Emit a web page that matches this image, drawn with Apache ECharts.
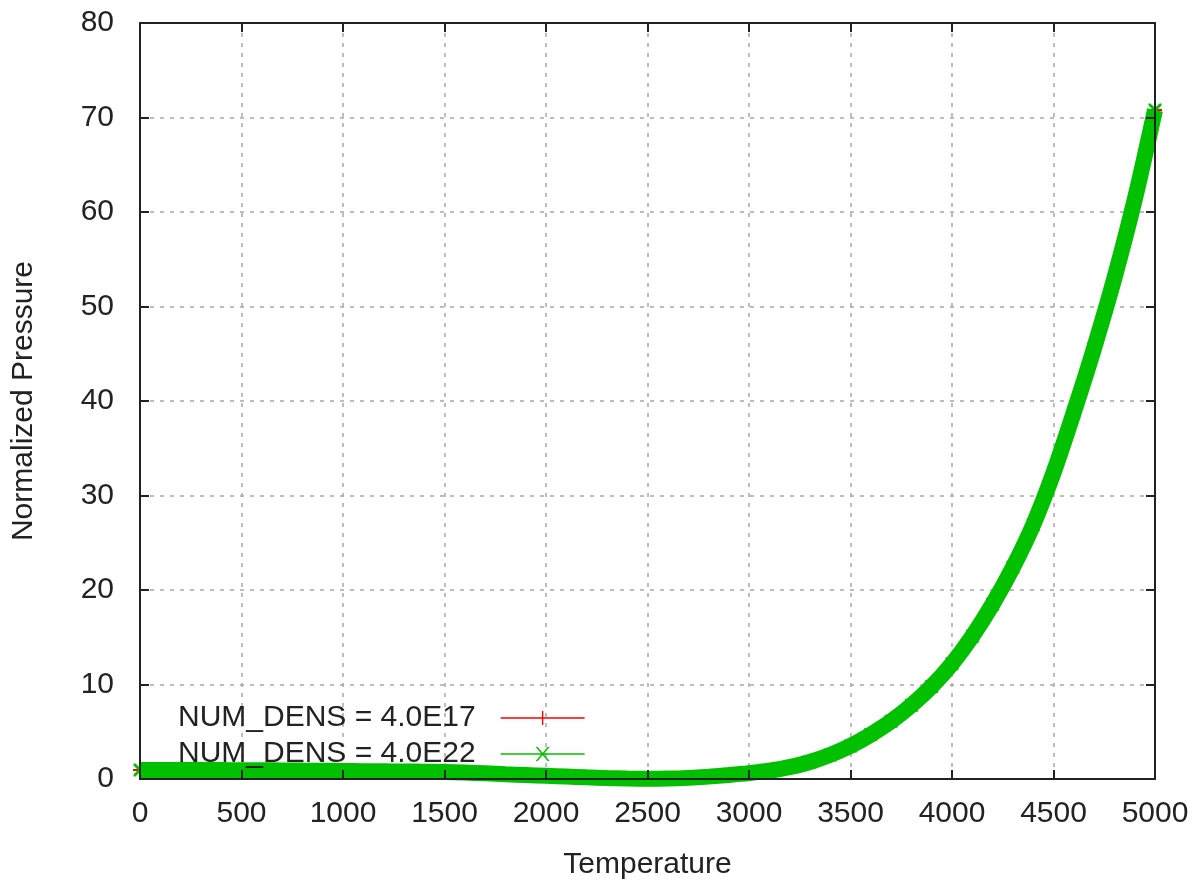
<!DOCTYPE html>
<html>
<head>
<meta charset="utf-8">
<style>
  html, body { margin: 0; padding: 0; background: #fff; }
  #chart { width: 1201px; height: 887px; }
</style>
<script src="https://cdn.jsdelivr.net/npm/echarts@6/dist/echarts.min.js"></script>
</head>
<body>
<div id="chart"></div>
<script>
// temperatures sampled every 100
const temperature = [
  0, 100, 200, 300, 400, 500, 600, 700, 800, 900,
  1000, 1100, 1200, 1300, 1400, 1500, 1600, 1700, 1800, 1900,
  2000, 2100, 2200, 2300, 2400, 2500, 2600, 2700, 2800, 2900,
  3000, 3100, 3200, 3300, 3400, 3500, 3600, 3700, 3800, 3900,
  4000, 4100, 4200, 4300, 4400, 4500, 4600, 4700, 4800, 4900, 5000
];
// NUM_DENS = 4.0E17
const pressureDens17 = [
  0.95, 0.95, 0.95, 0.94, 0.94, 0.93, 0.92, 0.91, 0.89, 0.87,
  0.85, 0.83, 0.81, 0.79, 0.77, 0.74, 0.68, 0.60, 0.50, 0.42,
  0.34, 0.26, 0.18, 0.11, 0.05, 0.02, 0.04, 0.12, 0.25, 0.42,
  0.62, 0.88, 1.25, 1.80, 2.55, 3.50, 4.70, 6.10, 7.80, 9.80,
  12.2, 15.1, 18.5, 22.4, 26.9, 32.4, 38.8, 45.6, 53.0, 61.3, 70.8
];
// NUM_DENS = 4.0E22
const pressureDens22 = [
  0.95, 0.95, 0.95, 0.94, 0.94, 0.93, 0.92, 0.91, 0.89, 0.87,
  0.85, 0.83, 0.81, 0.79, 0.77, 0.74, 0.68, 0.60, 0.50, 0.42,
  0.34, 0.26, 0.18, 0.11, 0.05, 0.02, 0.04, 0.12, 0.25, 0.42,
  0.62, 0.88, 1.25, 1.80, 2.55, 3.50, 4.70, 6.10, 7.80, 9.80,
  12.2, 15.1, 18.5, 22.4, 26.9, 32.4, 38.8, 45.6, 53.0, 61.3, 70.8
];
const seriesNames = ["NUM_DENS = 4.0E17", "NUM_DENS = 4.0E22"];

const FONT = "Liberation Sans";
const FONT_SIZE = 30;
const INK = "#222";
const RED = "#ff0000";
const GREEN = "#00c000";

const plusIcon = "path://M0,6.3L84,6.3L84,7.7L0,7.7Z M41.3,0L42.7,0L42.7,14L41.3,14Z";
const crossIcon = "path://M0,6.3L84,6.3L84,7.7L0,7.7Z M35,0L37,0L49,14L47,14Z M47,0L49,0L37,14L35,14Z";
const plusSymbol = "path://M6.8,0L9.2,0L9.2,16L6.8,16Z M0,6.8L16,6.8L16,9.2L0,9.2Z";
const crossSymbol = "path://M0,0L2.5,0L16,13.5L16,16L13.5,16L0,2.5Z M13.5,0L16,0L16,2.5L2.5,16L0,16L0,13.5Z";

function pairs(xs, ys) {
  return xs.map((x, i) => [x, ys[i]]);
}

const chart = echarts.init(document.getElementById("chart"), null, { renderer: "canvas" });

const xBase = { type: "value", min: 0, max: 5000, interval: 500 };
const yBase = { type: "value", min: 0, max: 80, interval: 10 };
const frameLine = { show: true, onZero: false, lineStyle: { color: INK, width: 2 } };
const frameTick = { show: true, inside: true, length: 9, lineStyle: { color: INK, width: 2 } };
const gridLine = { show: true, lineStyle: { color: "#a8a8a8", width: 1.5, type: [4, 6] } };
const plain = (v) => String(v);

chart.setOption({
  animation: false,
  textStyle: { fontFamily: FONT },
  grid: { left: 140, right: 46, top: 23, bottom: 108 },
  legend: {
    orient: "vertical",
    left: 178,
    top: 700,
    padding: 0,
    itemGap: 0,
    align: "right",
    itemWidth: 84,
    itemHeight: 14,
    selectedMode: false,
    textStyle: { fontFamily: FONT, fontSize: FONT_SIZE, color: INK, lineHeight: 36, padding: [0, 20, 0, 0] },
    data: [
      { name: seriesNames[0], icon: plusIcon },
      { name: seriesNames[1], icon: crossIcon }
    ]
  },
  xAxis: [
    Object.assign({}, xBase, {
      position: "bottom",
      z: 10,
      axisLine: frameLine,
      axisTick: frameTick,
      splitLine: { show: false },
      axisLabel: { fontFamily: FONT, fontSize: FONT_SIZE, color: INK, margin: 20, formatter: plain },
      name: "Temperature",
      nameLocation: "middle",
      nameGap: 71,
      nameTextStyle: { fontFamily: FONT, fontSize: FONT_SIZE, color: INK }
    }),
    Object.assign({}, xBase, {
      position: "top",
      z: 10,
      axisLine: frameLine,
      axisTick: frameTick,
      axisLabel: { show: false },
      splitLine: { show: false }
    }),
    Object.assign({}, xBase, {
      position: "bottom",
      z: 0,
      axisLine: { show: false },
      axisTick: { show: false },
      axisLabel: { show: false },
      splitLine: gridLine
    })
  ],
  yAxis: [
    Object.assign({}, yBase, {
      position: "left",
      z: 10,
      axisLine: frameLine,
      axisTick: frameTick,
      splitLine: { show: false },
      axisLabel: { fontFamily: FONT, fontSize: FONT_SIZE, color: INK, margin: 26, formatter: plain },
      name: "Normalized Pressure",
      nameLocation: "middle",
      nameGap: 101,
      nameTextStyle: { fontFamily: FONT, fontSize: FONT_SIZE, color: INK }
    }),
    Object.assign({}, yBase, {
      position: "right",
      z: 10,
      axisLine: frameLine,
      axisTick: frameTick,
      axisLabel: { show: false },
      splitLine: { show: false }
    }),
    Object.assign({}, yBase, {
      position: "left",
      z: 0,
      axisLine: { show: false },
      axisTick: { show: false },
      axisLabel: { show: false },
      splitLine: gridLine
    })
  ],
  series: [
    {
      name: seriesNames[0],
      type: "line",
      xAxisIndex: 0,
      yAxisIndex: 0,
      data: pairs(temperature, pressureDens17),
      smooth: 0.3,
      clip: false,
      symbol: plusSymbol,
      symbolSize: 14,
      showAllSymbol: true,
      itemStyle: { color: RED },
      lineStyle: { color: RED, width: 1.5 },
      z: 2
    },
    {
      name: seriesNames[1],
      type: "line",
      xAxisIndex: 0,
      yAxisIndex: 0,
      data: pairs(temperature, pressureDens22),
      smooth: 0.3,
      clip: false,
      symbol: crossSymbol,
      symbolSize: 13,
      showAllSymbol: true,
      itemStyle: { color: GREEN },
      lineStyle: { color: GREEN, width: 16, cap: "butt" },
      z: 3
    }
  ]
});
</script>
</body>
</html>
